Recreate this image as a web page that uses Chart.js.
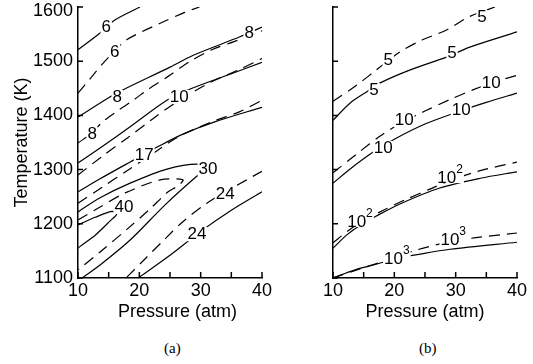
<!DOCTYPE html>
<html>
<head>
<meta charset="utf-8">
<script src="https://cdn.jsdelivr.net/npm/chart.js@4.4.0/dist/chart.umd.min.js"></script>
<style>
  body { margin: 0; background: #fff; }
  #wrap { position: relative; width: 533px; height: 364px; overflow: hidden; }
  .box { position: absolute; top: -10px; height: 340px; }
  #boxA { left: 0; width: 280px; }
  #boxB { left: 280px; width: 253px; }
  .cap { position: absolute; top: 341px; font-family: "Liberation Serif", "Times New Roman", serif; font-size: 15px; line-height: 1; }
</style>
</head>
<body>
<div id="wrap">
  <div class="box" id="boxA"><canvas id="chartA"></canvas></div>
  <div class="box" id="boxB"><canvas id="chartB"></canvas></div>
  <div class="cap" style="left:164px">(a)</div>
  <div class="cap" style="left:419px">(b)</div>
</div>
<script>
// ===== panel (a) contour lines : pressure (atm) / temperature (K)
const aSolid6P  = [10, 13.6, 16.0, 20.1];
const aSolid6T  = [1521, 1552, 1576, 1600];
const aDash6P   = [10, 12, 14, 16, 18, 23.4, 27.4, 29.8];
const aDash6T   = [1441, 1468, 1495, 1519, 1540, 1570, 1590, 1600];
const aSolid8P  = [10, 15.2, 17.3, 25.0, 28.8, 36.4, 40];
const aSolid8T  = [1397, 1434, 1447, 1489, 1511, 1545, 1563];
const aDash8P   = [10, 12.3, 14, 16.4, 19, 21.3, 24.7, 28.3, 32, 35.9, 40];
const aDash8T   = [1349, 1368, 1388, 1408, 1428, 1447, 1472, 1500, 1522, 1538, 1556];
const aSolid10P = [10, 13.6, 18.5, 24.5, 28.6, 34.8, 40];
const aSolid10T = [1312, 1340, 1379, 1428, 1450, 1476, 1498];
const aDash10P  = [10, 14, 18, 22, 26, 31.6, 36, 40];
const aDash10T  = [1290, 1325, 1358, 1392, 1424, 1461, 1483, 1505];
const aSolid17P = [10, 13.6, 18.5, 23, 27, 32.3, 40];
const aSolid17T = [1259, 1283, 1314, 1342, 1365, 1388, 1415];
const aDash17P  = [10, 14, 18, 22, 26.3, 31.8, 36.4, 40];
const aDash17T  = [1238, 1268, 1298, 1328, 1360, 1388, 1407, 1428];
const aSolid30P = [10, 13.6, 18.5, 24.5, 29.6, 30.9, 29.6, 24.2, 18.5, 13.6, 10.65];
const aSolid30T = [1222, 1248, 1275, 1301, 1310, 1300, 1290, 1235, 1170, 1124, 1100];
const aDash30P  = [10, 13.6, 17.7, 23.4, 27.1, 26.3, 24.7, 21.7, 18.2, 13.6, 10];
const aDash30T  = [1207, 1231, 1257, 1281, 1281, 1270, 1259, 1227, 1192, 1148, 1115];
const aSolid40P = [10, 12.8, 15.5, 16.3, 15.2, 12.8, 10.65, 10];
const aSolid40T = [1198, 1212, 1223, 1218, 1205, 1179, 1161, 1155];
const aSolid24P = [19.8, 25, 30, 35, 40];
const aSolid24T = [1100, 1142, 1186, 1225, 1259];
const aDash24P  = [18, 21, 24, 27, 31, 35, 40];
const aDash24T  = [1102, 1136, 1170, 1203, 1238, 1265, 1297];

// contour labels (text, pressure, temperature)
const aLabels = [
  ['6', 14.6, 1563], ['6', 16.0, 1517], ['8', 16.4, 1434], ['8', 12.3, 1366],
  ['8', 37.9, 1552], ['10', 26.5, 1434], ['17', 20.8, 1327], ['30', 31.2, 1301],
  ['40', 17.5, 1231], ['24', 34.0, 1255], ['24', 29.4, 1181]
];

// ===== panel (b)
const bSolid5P    = [10, 12.8, 15.7, 17.7, 22.6, 28.6, 32.3, 40];
const bSolid5T    = [1391, 1423, 1445, 1460, 1484, 1508, 1526, 1554];
const bDash5P     = [10, 13.9, 16.85, 20.9, 24.5, 28.6, 32, 36.4];
const bDash5T     = [1426, 1456, 1482, 1517, 1539, 1558, 1581, 1600];
const bSolid10P   = [10, 13, 16.5, 20, 25, 30.7, 35, 40];
const bSolid10T   = [1275, 1303, 1332, 1356, 1384, 1408, 1424, 1441];
const bDash10P    = [10, 14, 17.7, 21.4, 25, 29.2, 32.8, 36.1, 40];
const bDash10T    = [1294, 1330, 1362, 1388, 1408, 1430, 1447, 1461, 1474];
const bSolid100P  = [10, 12.3, 14.5, 17, 21, 27.4, 34, 40];
const bSolid100T  = [1155, 1180, 1198, 1214, 1237, 1266, 1284, 1296];
const bDash100P   = [10, 12.8, 15, 18.2, 21.7, 25.8, 29.1, 34, 40];
const bDash100T   = [1165, 1190, 1206, 1225, 1244, 1264, 1280, 1298, 1314];
const bSolid1000P = [10, 13.6, 18.2, 20.4, 22.6, 29.1, 40];
const bSolid1000T = [1100, 1115, 1129, 1137, 1141, 1153, 1166];
const bDash1000P  = [10, 14.7, 18, 23.7, 29.4, 33, 40];
const bDash1000T  = [1100, 1118, 1130, 1152, 1168, 1174, 1183];

const bLabels = [
  ['5', 19.0, 1502], ['5', 16.7, 1447], ['5', 29.4, 1515], ['5', 34.3, 1581],
  ['10', 21.6, 1391], ['10', 30.9, 1410], ['10', 35.8, 1460], ['10', 18.2, 1340],
  ['10^2', 14.4, 1207], ['10^2', 29.1, 1288], ['10^3', 20.4, 1139], ['10^3', 29.6, 1174]
];

const FONT = '"Liberation Sans", Arial, Helvetica, sans-serif';
Chart.defaults.font.family = FONT;
Chart.defaults.color = '#000';

// labels drawn inline on the contours, with a white gap behind them
const contourLabels = {
  id: 'contourLabels',
  afterDatasetsDraw(chart, args, opts) {
    const {ctx, scales: {x, y}} = chart;
    ctx.save();
    opts.items.forEach(([text, p, t]) => {
      const px = x.getPixelForValue(p), py = y.getPixelForValue(t);
      const [base, sup] = text.split('^');
      ctx.font = '17px ' + FONT;
      const wb = ctx.measureText(base).width;
      let ws = 0;
      if (sup) { ctx.font = '12px ' + FONT; ws = ctx.measureText(sup).width; }
      const w = wb + ws, left = px - w / 2;
      ctx.fillStyle = '#fff';
      ctx.fillRect(left - 1, py - 7, w + 2, 14);
      ctx.fillStyle = '#000';
      ctx.textBaseline = 'middle';
      ctx.textAlign = 'left';
      ctx.font = '17px ' + FONT;
      ctx.fillText(base, left, py + (sup ? 2 : 0));
      if (sup) { ctx.font = '12px ' + FONT; ctx.fillText(sup, left + wb, py - 6); }
    });
    ctx.restore();
  }
};

// tick marks pointing into the plot
const innerTicks = {
  id: 'innerTicks',
  afterDraw(chart) {
    const {ctx, chartArea: a, scales: {x, y}} = chart;
    ctx.save();
    ctx.strokeStyle = '#000';
    ctx.lineWidth = 1.5;
    ctx.beginPath();
    x.ticks.forEach(t => { const px = x.getPixelForValue(t.value); ctx.moveTo(px, a.bottom); ctx.lineTo(px, a.bottom - 6); });
    y.ticks.forEach(t => { const py = y.getPixelForValue(t.value); ctx.moveTo(a.left, py); ctx.lineTo(a.left + 5, py); });
    ctx.stroke();
    ctx.restore();
  }
};

function makeChart(id, curves, labels, yWidth, padRight, showY, xTitle) {
  return new Chart(document.getElementById(id), {
    type: 'scatter',
    data: {
      datasets: curves.map(([P, T, dashed]) => ({
        data: P.map((p, i) => ({x: p, y: T[i]})),
        showLine: true,
        borderColor: '#000',
        borderWidth: 1.2,
        borderDash: dashed ? [11, 7] : [],
        pointRadius: 0,
        tension: 0.3,
        fill: false
      }))
    },
    options: {
      responsive: true,
      maintainAspectRatio: false,
      animation: false,
      layout: { padding: { left: 0, right: padRight, top: 17, bottom: 0 } },
      plugins: {
        legend: { display: false },
        tooltip: { enabled: false },
        contourLabels: { items: labels }
      },
      scales: {
        x: {
          type: 'linear', min: 10, max: 40,
          grid: { display: false, drawTicks: false },
          border: { color: '#000', width: 1.5 },
          ticks: { stepSize: 5, autoSkip: false, maxRotation: 0, padding: 2, font: { size: 18 },
                   callback: v => v % 10 === 0 ? String(v) : '' },
          title: { display: true, text: xTitle, font: { size: 18 }, padding: { top: 0, bottom: 7 } },
          afterFit: s => { s.height = 52; }
        },
        y: {
          type: 'linear', min: 1100, max: 1600,
          grid: { display: false, drawTicks: false },
          border: { color: '#000', width: 1.5 },
          ticks: {
            display: showY, stepSize: 100, padding: 5,
            // the top label sits a little lower so it stays inside the figure
            font: c => ({ size: 18, lineHeight: c.tick && c.tick.value === 1600 ? 0.45 : 1.2 }),
            callback: v => v === 1600 ? ['', '1600'] : String(v)
          },
          title: { display: showY, text: 'Temperature (K)', font: { size: 18 }, padding: { top: 11, bottom: 0 } },
          afterFit: s => { s.width = yWidth; }
        }
      }
    },
    plugins: [innerTicks, contourLabels]
  });
}

makeChart('chartA', [
  [aSolid6P, aSolid6T, false], [aDash6P, aDash6T, true],
  [aSolid8P, aSolid8T, false], [aDash8P, aDash8T, true],
  [aSolid10P, aSolid10T, false], [aDash10P, aDash10T, true],
  [aSolid17P, aSolid17T, false], [aDash17P, aDash17T, true],
  [aSolid30P, aSolid30T, false], [aDash30P, aDash30T, true],
  [aSolid40P, aSolid40T, false],
  [aSolid24P, aSolid24T, false], [aDash24P, aDash24T, true]
], aLabels, 78, 18, true, '   Pressure (atm)');

makeChart('chartB', [
  [bSolid5P, bSolid5T, false], [bDash5P, bDash5T, true],
  [bSolid10P, bSolid10T, false], [bDash10P, bDash10T, true],
  [bSolid100P, bSolid100T, false], [bDash100P, bDash100T, true],
  [bSolid1000P, bSolid1000T, false], [bDash1000P, bDash1000T, true]
], bLabels, 53, 16, false, 'Pressure (atm)');
</script>
</body>
</html>
